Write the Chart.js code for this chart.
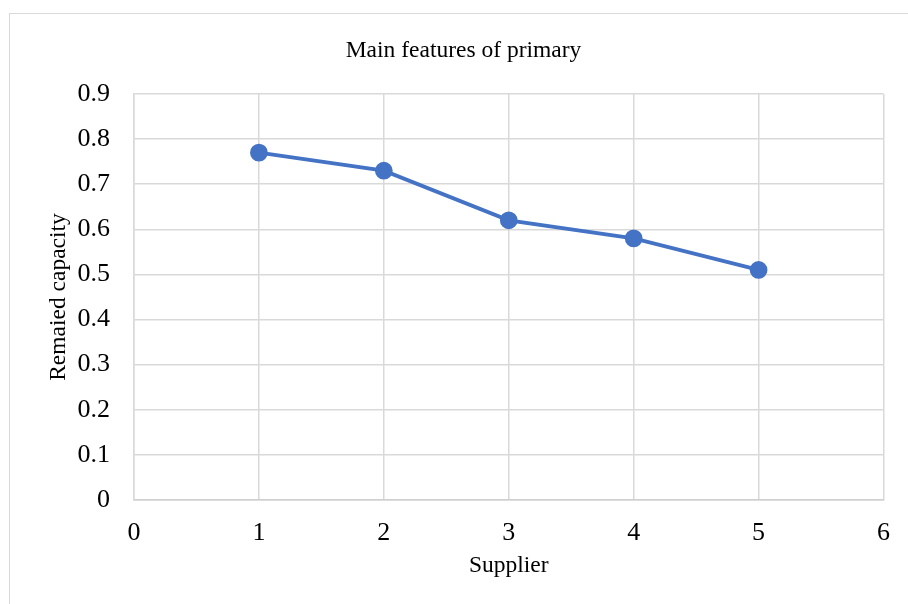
<!DOCTYPE html>
<html>
<head>
  <meta charset="UTF-8" />
  <title>Main features of primary</title>
  <style>
    html, body { margin: 0; padding: 0; background: #fff; overflow: hidden; }
    #frame { position: absolute; left: 9px; top: 13px; width: 1000px; height: 700px; border: 1.5px solid #d9d9d9; }
    #wrap { position: absolute; left: 0; top: 0; width: 908px; height: 604px; }
  </style>
  <script src="https://cdn.jsdelivr.net/npm/chart.js"></script>
</head>
<body>
  <div id="frame"></div>
  <div id="wrap"><canvas id="lineChart" width="908" height="604"></canvas></div>
  <script>
    const suppliers = [1, 2, 3, 4, 5];
    const capacity = [0.77, 0.73, 0.62, 0.58, 0.51];
    const yTickLabels = ["0", "0.1", "0.2", "0.3", "0.4", "0.5", "0.6", "0.7", "0.8", "0.9"];
    const xTickLabels = ["0", "1", "2", "3", "4", "5", "6"];

    const serif = "'Liberation Serif', 'Times New Roman', serif";
    const gridColor = "#d9d9d9";

    new Chart(document.getElementById("lineChart"), {
      type: "line",
      data: {
        datasets: [{
          label: "Remaied capacity",
          data: suppliers.map((s, i) => ({ x: s, y: capacity[i] })),
          borderColor: "#4472C4",
          backgroundColor: "#4472C4",
          borderWidth: 3.75,
          pointRadius: 7,
          pointHoverRadius: 7,
          tension: 0
        }]
      },
      options: {
        responsive: false,
        animation: false,
        layout: { padding: { left: 42, right: 23, top: 0, bottom: 0 } },
        plugins: {
          legend: { display: false },
          tooltip: { enabled: false },
          title: {
            display: true,
            text: "Main features of primary",
            color: "#000",
            font: { family: serif, size: 23.5, weight: "normal", lineHeight: 1.2 },
            padding: { top: 36.5, bottom: 29.3 }
          }
        },
        scales: {
          x: {
            type: "linear",
            min: 0,
            max: 6,
            ticks: {
              stepSize: 1,
              padding: 18,
              color: "#000",
              font: { family: serif, size: 26, lineHeight: 1.2 },
              callback: (v, i) => xTickLabels[i]
            },
            grid: { color: gridColor, lineWidth: 1.5, drawTicks: false },
            border: { color: "#cfcfcf", width: 1.5 },
            title: {
              display: true,
              text: "Supplier",
              color: "#000",
              font: { family: serif, size: 23.5, lineHeight: 1.2 },
              padding: { top: 0, bottom: 24 }
            },
            afterFit: s => { s.height = 104; }
          },
          y: {
            min: 0,
            max: 0.9,
            ticks: {
              stepSize: 0.1,
              padding: 24,
              color: "#000",
              font: { family: serif, size: 26, lineHeight: 1.2 },
              callback: (v, i) => yTickLabels[i]
            },
            grid: { color: gridColor, lineWidth: 1.5, drawTicks: false },
            border: { color: gridColor, width: 1.5 },
            title: {
              display: true,
              text: "Remaied capacity",
              color: "#000",
              font: { family: serif, size: 23.5, lineHeight: 1.2 },
              padding: { top: 3, bottom: 0 }
            },
            afterFit: s => { s.width = 92; }
          }
        }
      }
    });
  </script>
</body>
</html>
